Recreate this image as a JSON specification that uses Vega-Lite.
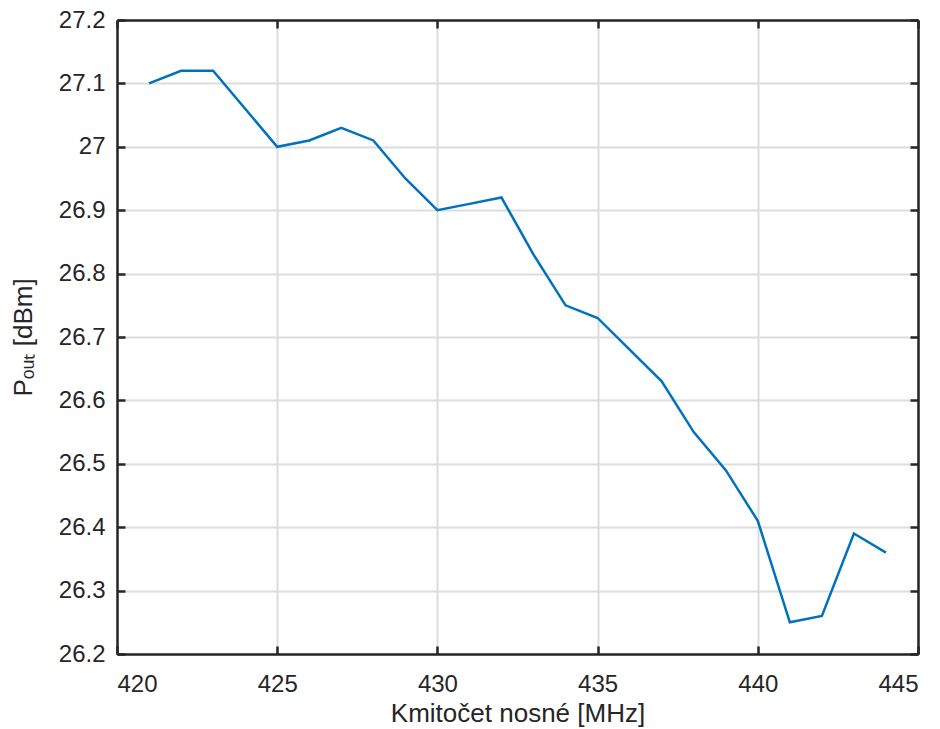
{
  "$schema": "https://vega.github.io/schema/vega-lite/v6.json",
  "autosize": "none",
  "width": 801,
  "height": 634,
  "padding": {"left": 117, "top": 20, "right": 22, "bottom": 75},
  "background": "white",
  "config": {
    "view": {"stroke": null},
    "font": "Liberation Sans",
    "axis": {
      "labelFont": "Liberation Sans",
      "titleFont": "Liberation Sans",
      "labelFontSize": 24,
      "titleFontSize": 26,
      "titleFontWeight": "normal",
      "labelColor": "#262626",
      "titleColor": "#262626",
      "domainColor": "#262626",
      "domainWidth": 2.5,
      "tickColor": "#262626",
      "tickWidth": 2.5,
      "tickSize": -8,
      "gridColor": "#dcdcdc",
      "gridWidth": 2
    }
  },
  "data": {
    "values": [
      {"f": 421, "p": 27.10},
      {"f": 422, "p": 27.12},
      {"f": 423, "p": 27.12},
      {"f": 425, "p": 27.00},
      {"f": 426, "p": 27.01},
      {"f": 427, "p": 27.03},
      {"f": 428, "p": 27.01},
      {"f": 429, "p": 26.95},
      {"f": 430, "p": 26.90},
      {"f": 431, "p": 26.91},
      {"f": 432, "p": 26.92},
      {"f": 433, "p": 26.83},
      {"f": 434, "p": 26.75},
      {"f": 435, "p": 26.73},
      {"f": 436, "p": 26.68},
      {"f": 437, "p": 26.63},
      {"f": 438, "p": 26.55},
      {"f": 439, "p": 26.49},
      {"f": 440, "p": 26.41},
      {"f": 441, "p": 26.25},
      {"f": 442, "p": 26.26},
      {"f": 443, "p": 26.39},
      {"f": 444, "p": 26.36}
    ]
  },
  "resolve": {"axis": {"x": "independent", "y": "independent"}},
  "layer": [
    {
      "mark": {"type": "line", "color": "#0072BD", "strokeWidth": 2.5, "clip": true},
      "encoding": {
        "x": {
          "field": "f", "type": "quantitative",
          "scale": {"domain": [420, 445], "nice": false, "zero": false},
          "axis": {"orient": "bottom", "values": [420, 425, 430, 435, 440, 445], "title": "Kmitočet nosné [MHz]", "labelPadding": 26, "titlePadding": 4, "grid": true}
        },
        "y": {
          "field": "p", "type": "quantitative",
          "scale": {"domain": [26.2, 27.2], "nice": false, "zero": false},
          "axis": {"orient": "left", "values": [26.2, 26.3, 26.4, 26.5, 26.6, 26.7, 26.8, 26.9, 27.0, 27.1, 27.2], "format": ".3~g", "title": "Pₒᵤₜ [dBm]", "labelPadding": 20, "titlePadding": 22, "grid": true}
        }
      }
    },
    {
      "mark": {"type": "line", "opacity": 0},
      "encoding": {
        "x": {
          "field": "f", "type": "quantitative",
          "scale": {"domain": [420, 445], "nice": false, "zero": false},
          "axis": {"orient": "top", "values": [420, 425, 430, 435, 440, 445], "labels": false, "title": null, "grid": false}
        },
        "y": {
          "field": "p", "type": "quantitative",
          "scale": {"domain": [26.2, 27.2], "nice": false, "zero": false},
          "axis": {"orient": "right", "values": [26.2, 26.3, 26.4, 26.5, 26.6, 26.7, 26.8, 26.9, 27.0, 27.1, 27.2], "labels": false, "title": null, "grid": false}
        }
      }
    }
  ]
}
